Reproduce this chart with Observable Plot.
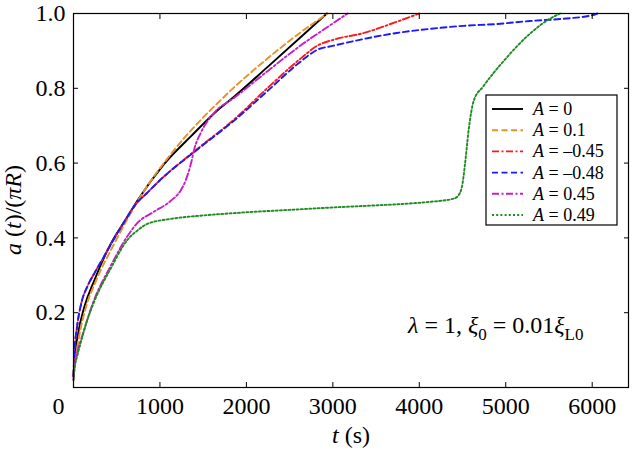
<!DOCTYPE html>
<html><head><meta charset="utf-8">
<script src="https://cdn.jsdelivr.net/npm/d3@7"></script>
<script src="https://cdn.jsdelivr.net/npm/@observablehq/plot@0.6"></script>
<style>
body{margin:0;background:#fff}
#chart svg{display:block}
#chart svg text, #chart svg tspan {font-family:Liberation Serif, serif;}
</style>
</head><body><div id="chart"></div>
<script>
// ---- data ----
const seriesLabels = ["0", "0.1", "–0.45", "–0.48", "0.45", "0.49"];

const tA0 = [0, 10, 50, 125, 240, 430, 620, 740, 1050, 1360, 1670, 1860, 2240, 2630, 2930];
const aA0 = [0.03, 0.07, 0.14, 0.215, 0.286, 0.384, 0.455, 0.5, 0.598, 0.672, 0.742, 0.778, 0.856, 0.937, 1.0];

const tA01 = [0, 15, 60, 145, 260, 470, 820, 1130, 1470, 1665, 1860, 2240, 2630, 2940];
const aA01 = [0.03, 0.06, 0.13, 0.215, 0.285, 0.384, 0.527, 0.625, 0.715, 0.76, 0.803, 0.879, 0.95, 1.0];

const tAm045 = [0, 10, 40, 90, 160, 240, 340, 450, 580, 720, 850, 990, 1470, 1860, 2240, 2630, 2820, 3010, 3360, 3740, 4000];
const aAm045 = [0.03, 0.09, 0.16, 0.225, 0.27, 0.305, 0.345, 0.39, 0.44, 0.49, 0.52, 0.552, 0.645, 0.717, 0.8, 0.88, 0.914, 0.93, 0.948, 0.978, 1.0];

const tAm048 = [0, 10, 40, 90, 160, 240, 340, 450, 580, 720, 850, 990, 1470, 1860, 2240, 2630, 2820, 3010, 3360, 3740, 4130, 4510, 4900, 5280, 5670, 6010, 6060];
const aAm048 = [0.03, 0.09, 0.16, 0.225, 0.27, 0.305, 0.345, 0.39, 0.44, 0.49, 0.52, 0.552, 0.643, 0.714, 0.792, 0.872, 0.903, 0.914, 0.932, 0.948, 0.959, 0.967, 0.972, 0.98, 0.986, 0.996, 1.0];

const tA045 = [0, 10, 50, 90, 240, 430, 625, 740, 930, 1130, 1240, 1300, 1360, 1400, 1470, 1630, 1860, 2240, 2630, 3010, 3170];
const aA045 = [0.02, 0.05, 0.1, 0.13, 0.235, 0.325, 0.405, 0.44, 0.47, 0.5, 0.527, 0.555, 0.6, 0.64, 0.68, 0.735, 0.775, 0.845, 0.915, 0.975, 1.0];

const tA049 = [0, 10, 50, 90, 145, 240, 430, 625, 740, 860, 1130, 1500, 1900, 2500, 3050, 3500, 3820, 4100, 4400, 4470, 4500, 4530, 4570, 4630, 4740, 4980, 5280, 5510, 5630];
const aA049 = [0.02, 0.045, 0.09, 0.125, 0.17, 0.23, 0.318, 0.395, 0.42, 0.438, 0.451, 0.46, 0.467, 0.475, 0.482, 0.487, 0.491, 0.496, 0.505, 0.52, 0.545, 0.6, 0.687, 0.767, 0.805, 0.874, 0.946, 0.986, 1.0];

const xTicks = [0, 1000, 2000, 3000, 4000, 5000, 6000];
const yTicks = [0.2, 0.4, 0.6, 0.8, 1.0];

// ---- styles ----
const seriesT = [tA0, tA01, tAm045, tAm048, tA045, tA049];
const seriesA = [aA0, aA01, aAm045, aAm048, aA045, aA049];
const colors = ["#000000", "#e8902a", "#ff1a1a", "#1a1aff", "#c81ec8", "#1e8c1e"];
const dashes = [null, "6,3.5", "7,2.5,2,2.5", "6,3.5", "7,2.5,2,2.5", "2,2.2"];
const FONT = "Liberation Serif";

const rows = [];
seriesT.forEach((ts, i) => ts.forEach((t, j) => rows.push({s: i, t, a: seriesA[i][j]})));

const lineMarks = seriesT.map((_, i) => Plot.line(rows.filter(d => d.s === i), {
  x: "t", y: "a", stroke: colors[i], strokeWidth: 1.9,
  strokeDasharray: dashes[i] || undefined, curve: "monotone-x"
}));

const noText = () => "";
const chart = Plot.plot({
  width: 636, height: 453,
  marginLeft: 73, marginRight: 8, marginTop: 13, marginBottom: 66,
  style: {fontFamily: FONT, fontSize: "24px", color: "black", background: "white"},
  x: {domain: [0, 6420]},
  y: {domain: [0, 1]},
  marks: [
    ...lineMarks,
    Plot.frame({stroke: "black", strokeWidth: 1.2}),
    Plot.axisX(xTicks.slice(1), {anchor: "bottom", tickSize: 0, tickPadding: 9, label: null, tickFormat: d => String(d), fontSize: 24, fontFamily: FONT}),
    Plot.axisX([0], {anchor: "bottom", tickSize: 0, tickPadding: 9, label: null, dx: -15, tickFormat: d => String(d), fontSize: 24, fontFamily: FONT}),
    Plot.axisX(xTicks, {anchor: "bottom", tickSize: -5, tickPadding: 0, label: null, tickFormat: noText}),
    Plot.axisX(xTicks, {anchor: "top", tickSize: -5, tickPadding: 0, label: null, tickFormat: noText}),
    Plot.axisY(yTicks, {anchor: "left", tickSize: 0, tickPadding: 8, label: null, tickFormat: d3.format(".1f"), fontSize: 24, fontFamily: FONT}),
    Plot.axisY(yTicks, {anchor: "left", tickSize: -5, tickPadding: 0, label: null, tickFormat: noText}),
    Plot.axisY(yTicks, {anchor: "right", tickSize: -5, tickPadding: 0, label: null, tickFormat: noText})
  ]
});
chart.setAttribute("font-family", FONT);
chart.setAttribute("font-size", "24");
document.getElementById("chart").appendChild(chart);

const svg = d3.select(chart);

// x label
const xl = svg.append("text").attr("x", 351).attr("y", 443).attr("text-anchor", "middle")
  .attr("font-family", FONT).attr("font-size", 24).attr("fill", "black");
xl.append("tspan").attr("font-style", "italic").text("t");
xl.append("tspan").text(" (s)");

// y label
const yl = svg.append("text").attr("transform", "translate(21,210) rotate(-90)").attr("text-anchor", "middle")
  .attr("font-family", FONT).attr("font-size", 24).attr("fill", "black");
yl.append("tspan").attr("font-style", "italic").text("a");
yl.append("tspan").text(" (");
yl.append("tspan").attr("font-style", "italic").text("t");
yl.append("tspan").text(")/(");
yl.append("tspan").attr("font-style", "italic").text("πR");
yl.append("tspan").text(")");

// annotation
const an = svg.append("text").attr("x", 408).attr("y", 333).attr("text-anchor", "start")
  .attr("font-family", FONT).attr("font-size", 24).attr("fill", "black");
an.append("tspan").attr("font-style", "italic").text("λ");
an.append("tspan").text(" = 1, ");
an.append("tspan").attr("font-style", "italic").text("ξ");
an.append("tspan").attr("dy", 7).attr("font-size", 17).text("0");
an.append("tspan").attr("dy", -7).text(" = 0.01");
an.append("tspan").attr("font-style", "italic").text("ξ");
an.append("tspan").attr("dy", 7).attr("font-size", 17).text("L0");

// legend
const lg = svg.append("g");
lg.append("rect").attr("x", 486).attr("y", 95).attr("width", 131).attr("height", 130)
  .attr("fill", "white").attr("stroke", "black").attr("stroke-width", 1.2);
seriesLabels.forEach((lab, i) => {
  const y = 109 + i * 21.2;
  lg.append("line").attr("x1", 492).attr("x2", 523).attr("y1", y).attr("y2", y)
    .attr("stroke", colors[i]).attr("stroke-width", 1.9)
    .attr("stroke-dasharray", dashes[i] || null);
  const tx = lg.append("text").attr("x", 533).attr("y", y + 6).attr("text-anchor", "start")
    .attr("font-family", FONT).attr("font-size", 18).attr("fill", "black");
  tx.append("tspan").attr("font-style", "italic").text("A");
  tx.append("tspan").text(" = " + lab);
});

svg.selectAll("text").attr("font-family", FONT);
</script>
</body></html>
